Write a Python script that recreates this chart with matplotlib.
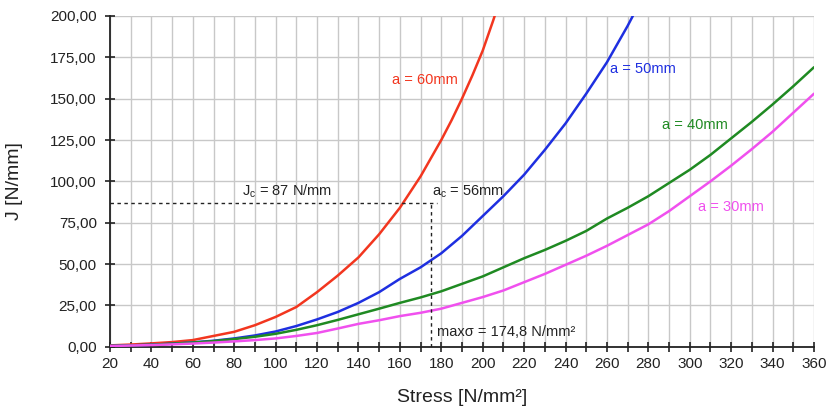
import matplotlib
matplotlib.use("Agg")
import matplotlib.pyplot as plt
from matplotlib.ticker import MultipleLocator, FuncFormatter

plt.rcParams['font.family'] = ['Liberation Sans', 'DejaVu Sans']

# Stress values [N/mm^2] and J-integral values [N/mm] for each crack depth
stress = [20, 30, 40, 50, 60, 70, 80, 90, 100, 110, 120, 130, 140, 150, 160,
          170, 180, 190, 200, 210, 220, 230, 240, 250, 260, 270, 280, 290,
          300, 310, 320, 330, 340, 350, 360]

stress_a60 = [20, 30, 40, 50, 60, 70, 80, 90, 100, 110, 120, 130, 140, 150,
              160, 170, 180, 185, 190, 195, 200, 205, 210]
j_a60 = [0.8, 1.3, 2.0, 2.8, 4.0, 6.5, 9.0, 13.0, 18.0, 24.0, 33.0, 43.0,
         54.0, 68.0, 84.0, 103.0, 125.0, 137.0, 150.0, 164.0, 179.0, 197.0,
         216.0]

stress_a50 = [20, 30, 40, 50, 60, 70, 80, 90, 100, 110, 120, 130, 140, 150,
              160, 170, 180, 190, 200, 210, 220, 230, 240, 250, 260, 270, 280]
j_a50 = [0.5, 0.8, 1.2, 1.8, 2.6, 3.6, 5.0, 6.8, 9.2, 12.5, 16.5, 21.0, 26.5,
         33.0, 41.0, 48.0, 56.5, 67.0, 79.0, 91.0, 104.0, 119.0, 135.0, 153.0,
         172.0, 194.0, 218.0]

j_a40 = [0.5, 0.8, 1.2, 1.8, 2.5, 3.4, 4.6, 6.0, 7.8, 10.2, 13.0, 16.2, 19.6,
         23.0, 26.5, 29.8, 33.5, 38.0, 42.5, 48.0, 53.5, 58.5, 64.0, 70.0,
         77.5, 84.0, 91.0, 99.0, 107.0, 116.0, 126.0, 136.0, 146.5, 157.5, 169.0]

j_a30 = [0.4, 0.7, 1.0, 1.4, 1.9, 2.5, 3.2, 4.0, 5.0, 6.5, 8.3, 11.0, 13.8,
         16.0, 18.5, 20.5, 23.0, 26.5, 30.0, 34.0, 39.0, 44.0, 49.5, 55.0,
         61.0, 67.5, 74.0, 82.0, 91.0, 100.0, 109.5, 119.5, 130.0, 141.5, 153.0]

j_crit = 87.0
stress_max = 174.8

fig = plt.figure(figsize=(8.3, 4.12), dpi=100)
ax = fig.add_axes([0.1325, 0.1585, 0.8482, 0.8027])

line_kw = dict(lw=1.8, zorder=3, solid_joinstyle='round', solid_capstyle='round')
ax.plot(stress_a60, j_a60, color='#f2361f', **line_kw)
ax.plot(stress_a50, j_a50, color='#1e2fe0', **line_kw)
ax.plot(stress, j_a40, color='#1f8a22', **line_kw)
ax.plot(stress, j_a30, color='#f050ee', **line_kw)

# critical J and maximum stress guide lines
ax.plot([20, 178], [j_crit, j_crit], color='#222222', lw=1.0,
        linestyle=(0, (2.5, 2.5)), zorder=4)
ax.plot([stress_max, stress_max], [0, j_crit], color='#222222', lw=1.0,
        linestyle=(0, (2.5, 2.5)), zorder=4)

ax.set_xlim(20, 360)
ax.set_ylim(0, 200)

ax.xaxis.set_major_locator(MultipleLocator(10))
ax.yaxis.set_major_locator(MultipleLocator(25))
ax.xaxis.set_major_formatter(FuncFormatter(
    lambda v, p: f"{int(round(v))}" if int(round(v)) % 20 == 0 else ""))
ax.yaxis.set_major_formatter(FuncFormatter(
    lambda v, p: f"{v:.2f}".replace('.', ',')))

ax.grid(True, color='#c8c8c8', lw=1.0, zorder=0)
ax.set_axisbelow(True)
for s in ('top', 'right'):
    ax.spines[s].set_visible(False)
for s in ('left', 'bottom'):
    ax.spines[s].set_linewidth(1.3)
    ax.spines[s].set_color('#222222')
ax.tick_params(direction='inout', length=7, width=1.2, color='#222222',
               labelsize=11, pad=4, labelcolor='#222222')
ax.tick_params(axis='y', pad=6)

ax.set_xlabel('Stress [N/mm²]', fontsize=14, color='#222222', va='center')
ax.set_ylabel('J [N/mm]', fontsize=14, color='#222222', va='center')
ax.xaxis.set_label_coords(0.5, -0.155)
ax.yaxis.set_label_coords(-0.135, 0.5)

kw = dict(ha='left', va='center', fontsize=10.5)
ax.text(156, 161.3, 'a = 60mm', color='#f2361f', **kw)
ax.text(261.5, 167.8, 'a = 50mm', color='#1e2fe0', **kw)
ax.text(286.4, 134.1, 'a = 40mm', color='#1f8a22', **kw)
ax.text(304, 84.7, 'a = 30mm', color='#f050ee', **kw)
ax.text(83.6, 94.3, 'J$_\\mathregular{c}$ = 87 N/mm', color='#222222', **kw)
ax.text(175.4, 93.7, 'a$_\\mathregular{c}$ = 56mm', color='#222222', **kw)
ax.text(177.8, 9.1, 'maxσ = 174,8 N/mm²', color='#222222', **kw)

fig.savefig('out.png', dpi=100)
